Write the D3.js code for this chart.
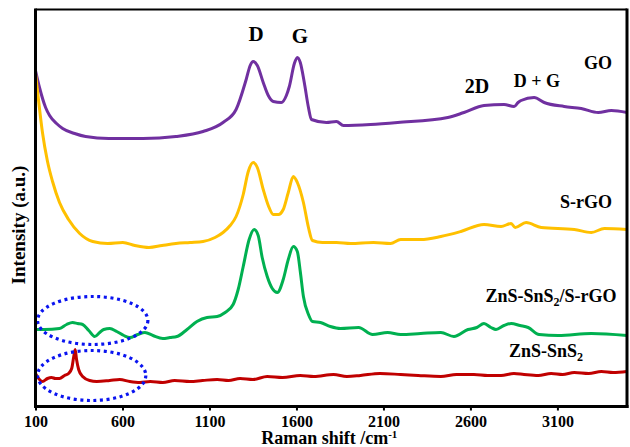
<!DOCTYPE html>
<html>
<head>
<meta charset="utf-8">
<script src="https://cdn.jsdelivr.net/npm/d3@7/dist/d3.min.js"></script>
<style>
  body { margin: 0; background: #fff; }
  svg text { font-family: "Liberation Serif", "Times New Roman", serif; font-weight: bold; fill: #000; }
</style>
</head>
<body>
<div class="chart"></div>
<script>
// Raman shift (cm-1), intensity (a.u.) pairs
const goData = [[100,336],[123,319],[158,299],[181,291],[221,283],[256,278],[325,273],[388,270],[521,268],[717,268],[907,270],[1063,275],[1178,284],[1253,297],[1311,327],[1334,341],[1351,345],[1375,341],[1409,324],[1438,311],[1467,305],[1513,304],[1542,311],[1559,320],[1588,343],[1605,349],[1622,344],[1645,324],[1669,299],[1686,287],[1772,284],[1830,285],[1870,281],[2026,282],[2182,284],[2470,289],[2563,294],[2678,301],[2793,302],[2851,300],[2874,304],[2891,306],[2966,309],[3024,304],[3139,300],[3237,298],[3335,294],[3410,296],[3500,294]];

const srgoData = [[100,333],[117,307],[140,274],[169,245],[198,225],[238,204],[290,187],[354,173],[429,165],[515,163],[602,164],[671,161],[752,159],[827,161],[907,163],[988,164],[1063,165],[1132,169],[1178,174],[1219,181],[1253,190],[1294,212],[1323,235],[1351,244],[1375,239],[1409,217],[1438,201],[1467,192],[1496,192],[1524,197],[1553,214],[1582,230],[1605,224],[1640,204],[1669,179],[1692,166],[1749,164],[1830,164],[1911,163],[2043,164],[2141,163],[2199,167],[2314,167],[2430,170],[2545,175],[2678,182],[2776,180],[2834,183],[2857,179],[2920,184],[3007,179],[3197,177],[3295,174],[3370,178],[3500,177]];

const compData = [[100,77],[152,77],[238,78],[279,82],[313,84],[342,83],[371,82],[406,76],[440,70],[469,74],[492,77],[527,78],[567,75],[608,71],[642,69],[688,72],[729,74],[775,71],[832,68],[873,69],[913,70],[971,77],[1028,85],[1086,89],[1144,90],[1190,94],[1236,102],[1265,117],[1294,140],[1328,167],[1357,177],[1380,171],[1403,149],[1432,130],[1461,118],[1490,114],[1524,127],[1553,147],[1582,160],[1605,155],[1622,135],[1640,110],[1669,92],[1692,85],[1738,84],[1795,80],[1853,78],[1957,79],[2038,72],[2124,74],[2199,72],[2314,73],[2430,74],[2505,70],[2586,77],[2637,79],[2678,83],[2718,79],[2747,77],[2793,81],[2834,83],[2885,81],[2932,79],[2995,72],[3105,71],[3295,73],[3500,71]];

const znsData = [[100,33],[123,27],[140,25],[169,28],[192,29],[215,28],[238,28],[267,31],[290,33],[308,38],[319,49],[328,57],[336,47],[348,37],[371,30],[411,26],[452,25],[527,26],[584,27],[642,25],[700,24],[760,25],[832,24],[900,26],[988,25],[1060,26],[1144,27],[1210,26],[1276,28],[1350,27],[1432,30],[1520,29],[1622,31],[1700,30],[1813,32],[1890,30],[1968,31],[2080,33],[2199,32],[2300,31],[2430,30],[2520,32],[2620,32],[2700,31],[2776,31],[2850,33],[2908,32],[2990,31],[3064,33],[3130,32],[3197,34],[3280,33],[3353,35],[3420,34],[3500,35]];

const xTicks = [100, 600, 1100, 1600, 2100, 2600, 3100];

// dotted blue highlight ellipses: centre (cm-1, a.u.) and radii (cm-1, a.u.)
const ellipses = [[429, 86, 317, 24], [423, 31, 311, 25]];

const width = 630, height = 447;
const plotLeft = 35.5, plotRight = 627, plotTop = 9.5, plotBottom = 406.5;

const svg = d3.select(".chart").append("svg")
    .attr("width", width)
    .attr("height", height);

const x = d3.scaleLinear().domain([100, 3500]).range([plotLeft, plotRight]);
const y = d3.scaleLinear().domain([0, 397]).range([plotBottom, plotTop]);

const line = d3.line()
    .x(d => x(d[0]))
    .y(d => y(d[1]))
    .curve(d3.curveMonotoneX);

const series = [
    { data: goData, colour: "#7030a0" },
    { data: srgoData, colour: "#ffc000" },
    { data: compData, colour: "#00b050" },
    { data: znsData, colour: "#c00000" }
];

series.forEach(s => {
    svg.append("path")
        .datum(s.data)
        .attr("fill", "none")
        .attr("stroke", s.colour)
        .attr("stroke-width", 3)
        .attr("stroke-linejoin", "round")
        .attr("d", line);
});

svg.append("g").selectAll("ellipse")
    .data(ellipses)
    .enter()
    .append("ellipse")
    .attr("cx", d => x(d[0]))
    .attr("cy", d => y(d[1]))
    .attr("rx", d => x(d[0] + d[2]) - x(d[0]))
    .attr("ry", d => y(0) - y(d[3]))
    .attr("fill", "none")
    .attr("stroke", "#0a14f0")
    .attr("stroke-width", 3.2)
    .attr("stroke-dasharray", "3 3.6");

// frame
const frame = svg.append("g").attr("stroke", "#000");
frame.append("line").attr("x1", plotLeft).attr("x2", plotRight).attr("y1", plotTop).attr("y2", plotTop).attr("stroke-width", 2);
frame.append("line").attr("x1", plotRight).attr("x2", plotRight).attr("y1", plotTop - 1).attr("y2", plotBottom + 1.5).attr("stroke-width", 3);
frame.append("line").attr("x1", plotLeft).attr("x2", plotLeft).attr("y1", plotTop - 1).attr("y2", plotBottom + 1.5).attr("stroke-width", 3);

const xAxis = d3.axisBottom(x)
    .tickValues(xTicks)
    .tickFormat(d3.format("d"))
    .tickSizeInner(4)
    .tickSizeOuter(0)
    .tickPadding(5.5);

const xAxisEl = svg.append("g")
    .attr("transform", "translate(0," + plotBottom + ")")
    .call(xAxis);

xAxisEl.select(".domain").remove();
xAxisEl.append("line")
    .attr("x1", plotLeft - 1.5).attr("x2", plotRight + 1.5)
    .attr("stroke", "#000").attr("stroke-width", 3);
xAxisEl.selectAll(".tick line").attr("stroke", "#000").attr("stroke-width", 2);
xAxisEl.selectAll(".tick text")
    .style("font-family", '"Liberation Serif", "Times New Roman", serif')
    .style("font-weight", "bold")
    .style("font-size", "16px")
    .attr("fill", "#000");

const xTitle = svg.append("text")
    .attr("x", (plotLeft + plotRight) / 2 - 2)
    .attr("y", 444)
    .attr("text-anchor", "middle")
    .style("font-size", "18px");
xTitle.append("tspan").text("Raman shift /cm");
xTitle.append("tspan").text("-1").attr("dy", -6).style("font-size", "11px");

svg.append("text")
    .attr("transform", "translate(25,225) rotate(-90)")
    .attr("text-anchor", "middle")
    .style("font-size", "19px")
    .text("Intensity (a.u.)");

// peak labels
const peakLabels = [
    { text: "D", x: 256, y: 41, size: 21 },
    { text: "G", x: 300, y: 43, size: 21 },
    { text: "2D", x: 477, y: 93, size: 20 },
    { text: "D + G", x: 537, y: 87, size: 18 },
    { text: "GO", x: 598, y: 69, size: 18 }
];

svg.append("g").selectAll("text")
    .data(peakLabels)
    .enter()
    .append("text")
    .attr("x", d => d.x)
    .attr("y", d => d.y)
    .attr("text-anchor", "middle")
    .style("font-size", d => d.size + "px")
    .text(d => d.text);

svg.append("text")
    .attr("x", 586).attr("y", 208)
    .attr("text-anchor", "middle")
    .style("font-size", "18px")
    .text("S-rGO");

const compLabel = svg.append("text")
    .attr("x", 551).attr("y", 302)
    .attr("text-anchor", "middle")
    .style("font-size", "18px");
compLabel.append("tspan").text("ZnS-SnS");
compLabel.append("tspan").text("2").attr("dy", 4).style("font-size", "12px");
compLabel.append("tspan").text("/S-rGO").attr("dy", -4);

const znsLabel = svg.append("text")
    .attr("x", 546).attr("y", 357)
    .attr("text-anchor", "middle")
    .style("font-size", "18px");
znsLabel.append("tspan").text("ZnS-SnS");
znsLabel.append("tspan").text("2").attr("dy", 4).style("font-size", "12px");
</script>
</body>
</html>
